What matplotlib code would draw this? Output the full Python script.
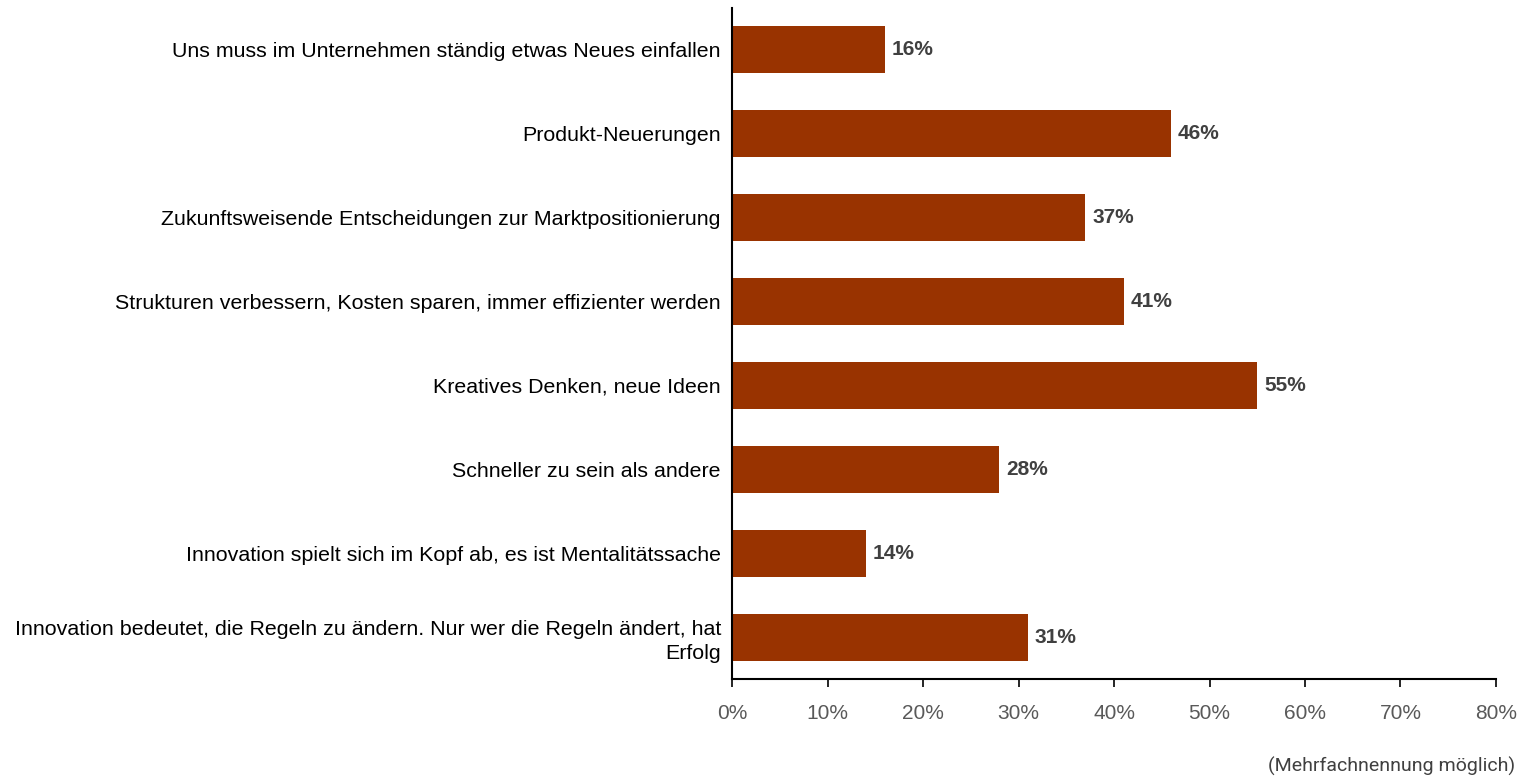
import matplotlib.pyplot as plt
from matplotlib.ticker import MultipleLocator, FuncFormatter

categories = [
    "Uns muss im Unternehmen ständig etwas Neues einfallen",
    "Produkt-Neuerungen",
    "Zukunftsweisende Entscheidungen zur Marktpositionierung",
    "Strukturen verbessern, Kosten sparen, immer effizienter werden",
    "Kreatives Denken, neue Ideen",
    "Schneller zu sein als andere",
    "Innovation spielt sich im Kopf ab, es ist Mentalitätssache",
    "Innovation bedeutet, die Regeln zu ändern. Nur wer die Regeln ändert, hat\nErfolg",
]
values = [16, 46, 37, 41, 55, 28, 14, 31]
note = "(Mehrfachnennung möglich)"

bar_color = "#993300"

fig = plt.figure(figsize=(15.2, 7.81), dpi=100)
ax = fig.add_axes([0.4816, 0.1306, 0.5026, 0.8592])

y = list(range(len(categories)))
ax.barh(y, values, height=0.56, color=bar_color)
ax.set_ylim(len(categories) - 0.5, -0.5)
ax.set_xlim(0, 80)

for yi, v in zip(y, values):
    ax.text(v + 0.7, yi, f"{v}%", va="center", ha="left", fontsize=15,
            fontweight="bold", color="#404040", family="Liberation Sans")

ax.set_yticks(y)
ax.set_yticklabels(categories, fontsize=15.4, family="Liberation Sans",
                   color="black", linespacing=1.3)
ax.tick_params(axis="y", length=0, pad=8)

ax.xaxis.set_major_locator(MultipleLocator(10))
ax.xaxis.set_major_formatter(FuncFormatter(lambda x, _: f"{x:.0f}%"))
ax.tick_params(axis="x", direction="out", length=6, width=1.2, pad=12,
               labelsize=15, labelcolor="#595959", color="black")
for lbl in ax.get_xticklabels():
    lbl.set_family("Liberation Sans")

for side in ["top", "right"]:
    ax.spines[side].set_visible(False)
for side in ["left", "bottom"]:
    ax.spines[side].set_linewidth(1.5)
    ax.spines[side].set_color("black")

fig.text(0.997, 0.019, note, ha="right", va="center", fontsize=14,
         color="#404040", family="Roboto")

fig.savefig("out.png", dpi=100)
